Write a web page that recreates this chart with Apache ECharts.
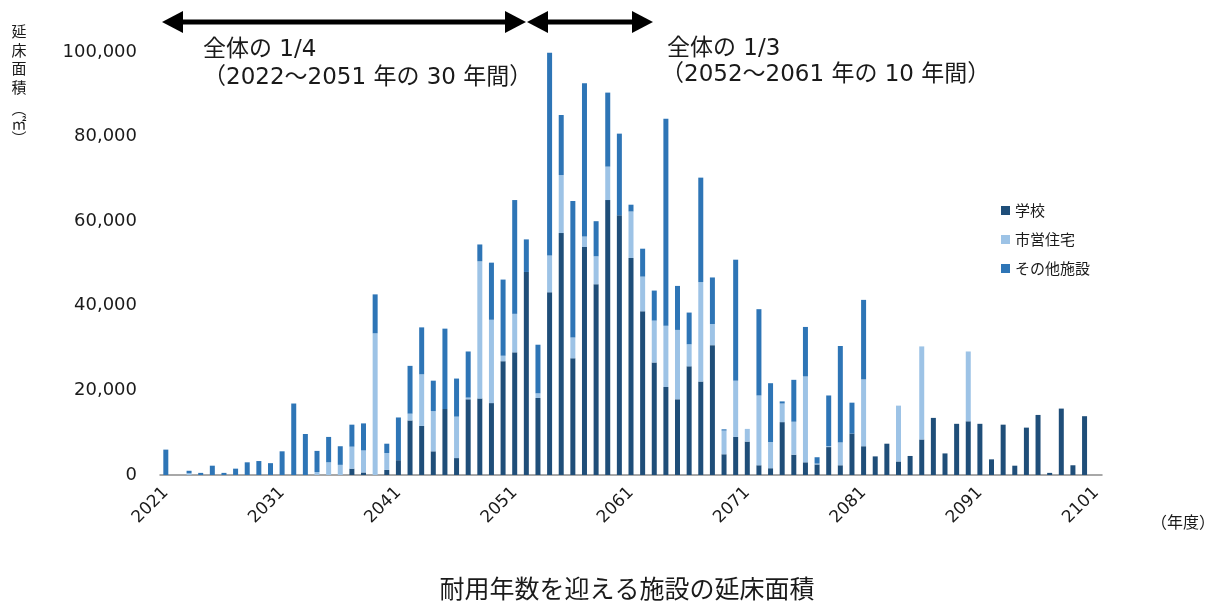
<!DOCTYPE html>
<html>
<head>
<meta charset="utf-8">
<script src="https://cdn.jsdelivr.net/npm/echarts@6/dist/echarts.min.js"></script>
<style>
  html, body { margin: 0; padding: 0; background: #fff; }
  #chart { width: 1222px; height: 604px; }
</style>
</head>
<body>
<div id="chart"></div>
<script>
// 2021 .. 2101
const years = []
for (let y = 2021; y <= 2101; y++) years.push(String(y))

// 学校
const school = [
  0, 0, 0, 0, 0, 0, 0, 0, 0, 0,
  0, 0, 0, 0, 0, 0, 1500, 600, 0, 1200,
  3500, 12900, 11600, 5600, 15600, 4000, 17900, 18100, 17000, 26900,
  29000, 48000, 18200, 43200, 57200, 27600, 53900, 45100, 65000, 61400,
  51300, 38700, 26600, 20800, 17900, 25700, 22100, 30700, 4900, 9000,
  7900, 2300, 1600, 12500, 4800, 3000, 2500, 6600, 2300, 9800,
  6800, 4400, 7400, 3200, 4500, 8400, 13500, 5100, 12100, 12700,
  12100, 3700, 11900, 2200, 11200, 14200, 500, 15700, 2300, 13900,
  0
]
// 市営住宅
const housing = [
  0, 0, 400, 0, 0, 0, 0, 0, 0, 0,
  0, 0, 0, 700, 3000, 2400, 5200, 5200, 33500, 4000,
  0, 1600, 12200, 9500, 0, 9800, 400, 32400, 19700, 1300,
  9100, 0, 1100, 8700, 13700, 4900, 2500, 6600, 7900, 0,
  11000, 8200, 9900, 14500, 16400, 5200, 23500, 5000, 5600, 13300,
  3000, 16500, 6200, 4400, 7800, 20300, 200, 200, 5400, 0,
  15800, 0, 0, 13200, 0, 22000, 0, 0, 0, 16500,
  0, 0, 0, 0, 0, 0, 0, 0, 0, 0,
  0
]
// その他施設
const other = [
  6000, 0, 600, 500, 2200, 500, 1500, 3000, 3300, 2800,
  5600, 16900, 9700, 5000, 6000, 4400, 5200, 6400, 9200, 2200,
  10100, 11300, 11100, 7200, 19000, 9000, 10900, 4000, 13500, 18000,
  26900, 7700, 11500, 47900, 14200, 32300, 36200, 8300, 17500, 19300,
  1600, 6600, 7100, 48900, 10400, 7500, 24700, 11000, 300, 28600,
  0, 20400, 13900, 500, 9900, 11700, 1500, 12000, 22800, 7300,
  18800, 0, 0, 0, 0, 0, 0, 0, 0, 0,
  0, 0, 0, 0, 0, 0, 0, 0, 0, 0,
  0
]

const seriesNames = ['学校', '市営住宅', 'その他施設']
const seriesColors = ['#1f4e79', '#9dc3e6', '#2e75b6']
const yTicks = [0, 20000, 40000, 60000, 80000, 100000]

const JP = '"Noto Sans CJK JP", "Noto Sans", sans-serif'
const NUM = '"DejaVu Sans", "Noto Sans CJK JP", sans-serif'
const TXT = '#1a1a1a'

// 両矢印（注記用）
const arrow = (x1, x2, y) => {
  const head = 21
  const half = 11
  return {
    type: 'group',
    children: [
      { type: 'rect', shape: { x: x1 + head - 1, y: y - 2.5, width: x2 - x1 - 2 * head + 2, height: 5 }, style: { fill: '#000' } },
      { type: 'polygon', shape: { points: [[x1, y], [x1 + head, y - half], [x1 + head, y + half]] }, style: { fill: '#000' } },
      { type: 'polygon', shape: { points: [[x2, y], [x2 - head, y - half], [x2 - head, y + half]] }, style: { fill: '#000' } },
    ],
  }
}

const label = (text, x, y, size, align, family) => ({
  type: 'text',
  x,
  y,
  style: {
    text,
    fontSize: size,
    fontFamily: family || JP,
    fill: TXT,
    textAlign: align || 'left',
    textVerticalAlign: 'middle',
  },
})

const chart = echarts.init(document.getElementById('chart'))

chart.setOption({
  animation: false,
  grid: { left: 160, right: 120, top: 52, bottom: 129, containLabel: false },
  legend: {
    orient: 'vertical',
    left: 996,
    top: 198,
    itemWidth: 9,
    itemHeight: 9,
    itemGap: 14,
    icon: 'rect',
    data: seriesNames,
    textStyle: { fontSize: 15, fontFamily: JP, color: TXT },
  },
  xAxis: {
    type: 'category',
    data: years,
    axisLine: { lineStyle: { color: '#8c8c8c', width: 1.5 } },
    axisTick: { interval: 0, length: 5, lineStyle: { color: '#8c8c8c' } },
    axisLabel: {
      interval: 9,
      rotate: 45,
      margin: 15,
      fontSize: 17,
      fontFamily: NUM,
      color: TXT,
    },
  },
  yAxis: {
    type: 'value',
    min: yTicks[0],
    max: yTicks[yTicks.length - 1],
    interval: yTicks[1] - yTicks[0],
    axisLine: { show: false },
    axisTick: { show: false },
    splitLine: { show: false },
    axisLabel: {
      margin: 23,
      fontSize: 18,
      fontFamily: NUM,
      color: TXT,
      formatter: (v) => v.toLocaleString('en-US'),
    },
  },
  series: [school, housing, other].map((data, k) => ({
    name: seriesNames[k],
    type: 'bar',
    stack: 'total',
    data,
    barWidth: 5,
    itemStyle: { color: seriesColors[k] },
  })),
  graphic: [
    arrow(162, 526, 22),
    arrow(527, 653, 22),
    label('全体の 1/4', 203, 50, 23, 'left', NUM),
    label('（2022～2051 年の 30 年間）', 203, 78, 23, 'left', NUM),
    label('全体の 1/3', 667, 49, 23, 'left', NUM),
    label('（2052～2061 年の 10 年間）', 661, 75, 23, 'left', NUM),
    {
      type: 'text',
      x: 19,
      y: 22,
      style: { text: '延\n床\n面\n積', fontSize: 15, lineHeight: 18.7, fontFamily: JP, fill: TXT, textAlign: 'center' },
    },
    // 縦書きの括弧と単位
    label('︵', 19, 108, 15, 'center'),
    label('㎡', 19, 123, 15, 'center'),
    label('︶', 19, 138, 15, 'center'),
    label('（年度）', 1215, 522, 16, 'right'),
    label('耐用年数を迎える施設の延床面積', 627, 588, 25, 'center'),
  ],
})
</script>
</body>
</html>
